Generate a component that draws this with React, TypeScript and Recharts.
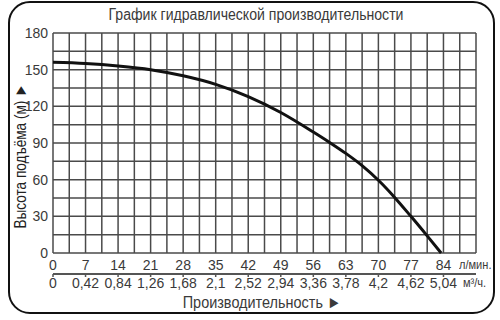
import React from "react";
import {
  LineChart,
  Line,
  XAxis,
  YAxis,
  CartesianGrid,
} from "recharts";

// flow, l/min
const flowLpm = [0, 7, 14, 21, 28, 35, 42, 49, 56, 59.5, 63, 66.5, 70, 73.5, 77, 80.5, 83.5];
// head, m
const headM = [156, 155, 153, 150, 145, 138, 128, 115, 99, 90.5, 81.5, 71.5, 59.5, 45.5, 30, 14, 0];

const flowLabels = [0, 7, 14, 21, 28, 35, 42, 49, 56, 63, 70, 77, 84];
const flowM3hLabels = [
  "0", "0,42", "0,84", "1,26", "1,68", "2,1", "2,52",
  "2,94", "3,36", "3,78", "4,2", "4,62", "5,04",
];
const headLabels = [0, 30, 60, 90, 120, 150, 180];

// grid steps: 3.5 l/min and 15 m
const gridX = [
  0, 3.5, 7, 10.5, 14, 17.5, 21, 24.5, 28, 31.5, 35, 38.5, 42, 45.5, 49,
  52.5, 56, 59.5, 63, 66.5, 70, 73.5, 77, 80.5, 84, 87.5, 91,
];
const gridY = [0, 15, 30, 45, 60, 75, 90, 105, 120, 135, 150, 165, 180];

const data = flowLpm.map((q, i) => ({ q, h: headM[i] }));

const FONT = "'Liberation Sans', Arial, sans-serif";
const TEXT = "#3a3a3a";

const FlowTick = (props: any) => {
  const { x, y, payload } = props;
  if (!flowLabels.includes(payload.value)) return <g />;
  return (
    <text x={x} y={y + 9} textAnchor="middle" fontSize={14} fill={TEXT} fontFamily={FONT}>
      {payload.value}
    </text>
  );
};

const M3hTick = (props: any) => {
  const { x, y, payload } = props;
  const idx = flowLabels.indexOf(payload.value);
  return (
    <text x={x} y={y + 9} textAnchor="middle" fontSize={14} fill={TEXT} fontFamily={FONT}>
      {flowM3hLabels[idx]}
    </text>
  );
};

const HeadTick = (props: any) => {
  const { x, y, payload } = props;
  if (!headLabels.includes(payload.value)) return <g />;
  return (
    <text x={x + 3} y={y + 5} textAnchor="end" fontSize={14} fill={TEXT} fontFamily={FONT}>
      {payload.value}
    </text>
  );
};

export default function App() {
  return (
    <div style={{ position: "absolute", left: 0, top: 0, width: 500, height: 320, background: "#fff" }}>
      <div
        style={{
          position: "absolute",
          left: 8,
          top: 1,
          width: 483,
          height: 309,
          border: "2.5px solid #111",
          borderRadius: 22,
        }}
      />
      <LineChart
        width={500}
        height={320}
        data={data}
        margin={{ top: 33, right: 24, left: 8, bottom: 0 }}
      >
        <CartesianGrid stroke="#4a4a4a" strokeWidth={1.5} />
        <XAxis
          dataKey="q"
          type="number"
          domain={[0, 91]}
          ticks={gridX}
          interval={0}
          height={21}
          axisLine={false}
          tickLine={false}
          tick={<FlowTick />}
        />
        <XAxis
          xAxisId="m3h"
          dataKey="q"
          type="number"
          domain={[0, 91]}
          ticks={flowLabels}
          interval={0}
          height={46}
          axisLine={{ stroke: "#555", strokeWidth: 2 }}
          tickLine={{ stroke: "#555", strokeWidth: 1.5 }}
          tickSize={3}
          tick={<M3hTick />}
        />
        <YAxis
          type="number"
          domain={[0, 180]}
          ticks={gridY}
          interval={0}
          width={45}
          axisLine={false}
          tickLine={false}
          tick={<HeadTick />}
        />
        <Line
          type="monotone"
          dataKey="h"
          stroke="#111"
          strokeWidth={3}
          dot={false}
          isAnimationActive={false}
        />
      </LineChart>
      <div
        style={{
          position: "absolute",
          left: 0,
          top: 6,
          width: 512,
          textAlign: "center",
          fontFamily: FONT,
          fontSize: 16,
          color: TEXT,
          transform: "scaleX(0.88)",
        }}
      >
        График гидравлической производительности
      </div>
      <div
        style={{
          position: "absolute",
          left: 21,
          top: 156,
          transform: "translate(-50%, -50%) rotate(-90deg) scaleX(0.8)",
          whiteSpace: "nowrap",
          fontFamily: FONT,
          fontSize: 17,
          color: "#222",
        }}
      >
        Высота подъёма (м) ►
      </div>
      <div
        style={{
          position: "absolute",
          left: 459,
          top: 257,
          fontFamily: FONT,
          fontSize: 13,
          color: TEXT,
          transform: "scaleX(0.85)",
          transformOrigin: "left center",
        }}
      >
        л/мин.
      </div>
      <div
        style={{
          position: "absolute",
          left: 463,
          top: 275,
          fontFamily: FONT,
          fontSize: 13,
          color: TEXT,
          transform: "scaleX(0.85)",
          transformOrigin: "left center",
        }}
      >
        м³/ч.
      </div>
      <div
        style={{
          position: "absolute",
          left: 0,
          top: 293,
          width: 524,
          textAlign: "center",
          fontFamily: FONT,
          fontSize: 17,
          color: TEXT,
          transform: "scaleX(0.85)",
        }}
      >
        Производительность ►
      </div>
    </div>
  );
}
